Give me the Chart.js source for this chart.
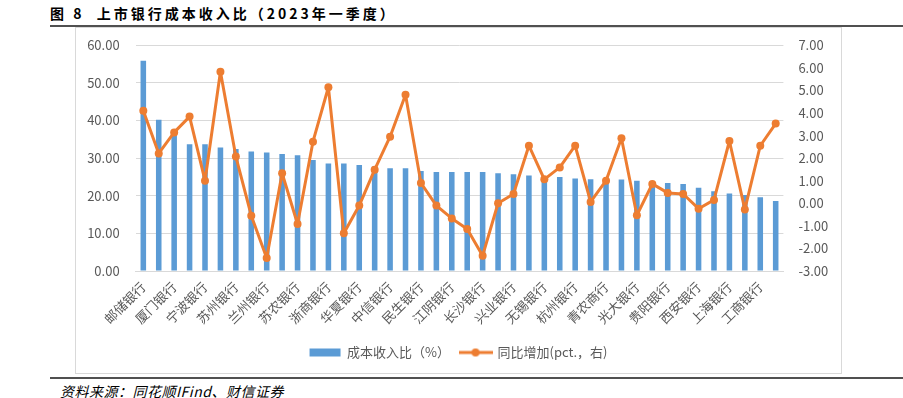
<!DOCTYPE html>
<html lang="zh-CN">
<head>
    <meta charset="UTF-8">
    <title>上市银行成本收入比</title>
    <script src="https://cdn.jsdelivr.net/npm/chart.js"></script>
    <style>
        body { margin: 0; width: 903px; height: 398px; background: #fff; position: relative; overflow: hidden;
               font-family: "Noto Sans CJK SC", "Noto Sans", sans-serif; }
        #title { position: absolute; left: 50px; top: 3px; font-size: 14px; font-weight: bold; letter-spacing: 3px; color: #000; }
        .rule { position: absolute; left: 50px; right: 0; height: 2px; background: #505050; }
        #frame { position: absolute; left: 75px; top: 27px; width: 767px; height: 347px;
                 border: 1px solid #d9d9d9; box-sizing: border-box; }
        #source { position: absolute; left: 60px; top: 381px; font-size: 14px; font-style: italic; letter-spacing: 0.5px; color: #000; }
    </style>
</head>
<body>
    <div id="title">图 8&nbsp;&nbsp;上市银行成本收入比（2023年一季度）</div>
    <div class="rule" style="top:25px"></div>
    <div id="frame"><canvas id="myChart"></canvas></div>
    <div class="rule" style="top:377px"></div>
    <div id="source">资料来源：同花顺IFind、财信证券</div>

    <script>
        // 银行（按成本收入比降序）
        const banks = ['邮储银行', '常熟银行', '厦门银行', '瑞丰银行', '宁波银行', '紫金银行', '苏州银行', '张家港行',
            '兰州银行', '沪农商行', '苏农银行', '渝农商行', '浙商银行', '齐鲁银行', '华夏银行', '北京银行',
            '中信银行', '农业银行', '民生银行', '中国银行', '江阴银行', '平安银行', '长沙银行', '招商银行',
            '兴业银行', '浦发银行', '无锡银行', '交通银行', '杭州银行', '青岛银行', '青农商行', '郑州银行',
            '光大银行', '江苏银行', '贵阳银行', '南京银行', '西安银行', '重庆银行', '上海银行', '成都银行',
            '工商银行', '建设银行'];

        // 成本收入比（%）
        const costIncome = [55.9, 40.2, 36.5, 33.7, 33.7, 32.8, 32.4, 31.8, 31.5, 31.1, 30.8, 29.5, 28.6, 28.6,
            28.2, 27.8, 27.3, 27.3, 26.6, 26.3, 26.3, 26.3, 26.3, 26.0, 25.7, 25.4, 25.2, 25.0, 24.6, 24.4,
            24.4, 24.3, 24.0, 23.5, 23.4, 23.1, 22.1, 21.2, 20.6, 20.2, 19.6, 18.6];

        // 同比增加（pct.，右轴）
        const yoyChange = [4.10, 2.21, 3.14, 3.84, 1.00, 5.83, 2.07, -0.55, -2.42, 1.33, -0.92, 2.73, 5.14, -1.33,
            -0.10, 1.49, 2.95, 4.81, 0.90, -0.10, -0.67, -1.14, -2.32, 0.00, 0.41, 2.55, 1.06, 1.59, 2.55, 0.06,
            1.00, 2.88, -0.53, 0.86, 0.46, 0.41, -0.24, 0.15, 2.76, -0.27, 2.55, 3.53];

        const seriesNames = ['成本收入比（%）', '同比增加(pct.，右)'];
        const blue = '#5b9bd5';
        const orange = '#ed7d31';
        const grey = '#595959';
        const font = '"Noto Sans CJK SC", "Noto Sans", sans-serif';

        // legend icon for the line series: a short line with a dot
        const lineIcon = document.createElement('canvas');
        lineIcon.width = 34; lineIcon.height = 10;
        (function () {
            const c = lineIcon.getContext('2d');
            c.strokeStyle = orange; c.lineWidth = 3;
            c.beginPath(); c.moveTo(0, 5); c.lineTo(34, 5); c.stroke();
            c.fillStyle = orange;
            c.beginPath(); c.arc(17, 5, 4, 0, Math.PI * 2); c.fill();
        })();

        // fixed axis widths so the plot area lands where the original one is
        function fixVertical(width) {
            return s => { s.width = width; s.paddingTop = 0; s.paddingBottom = 0; };
        }

        const config = {
            data: {
                labels: banks,
                datasets: [{
                    type: 'bar',
                    label: seriesNames[0],
                    data: costIncome,
                    backgroundColor: blue,
                    borderWidth: 0,
                    categoryPercentage: 1,
                    barPercentage: 0.36,
                    yAxisID: 'y',
                    order: 2
                }, {
                    type: 'line',
                    label: seriesNames[1],
                    data: yoyChange,
                    borderColor: orange,
                    backgroundColor: orange,
                    borderWidth: 3,
                    borderJoinStyle: 'round',
                    borderCapStyle: 'round',
                    pointRadius: 4,
                    pointBackgroundColor: orange,
                    pointBorderWidth: 0,
                    tension: 0,
                    yAxisID: 'y1',
                    order: 1
                }]
            },
            options: {
                responsive: true,
                maintainAspectRatio: false,
                animation: false,
                layout: { padding: { left: 0, right: 0, top: 17.3, bottom: 4 } },
                scales: {
                    x: {
                        offset: true,
                        grid: { display: false, drawTicks: false },
                        border: { color: '#d9d9d9' },
                        ticks: {
                            autoSkip: false,
                            maxRotation: 45,
                            minRotation: 45,
                            padding: 8,
                            color: grey,
                            font: { family: font, size: 13 },
                            callback: function (v, i) { return i % 2 === 0 ? this.getLabelForValue(v) : ''; }
                        },
                        afterFit: s => { s.height = 65; }
                    },
                    y: {
                        position: 'left',
                        min: 0, max: 60,
                        grid: { color: '#d9d9d9', drawTicks: false },
                        border: { display: false },
                        ticks: {
                            stepSize: 10, padding: 16, color: grey,
                            font: { family: font, size: 13 },
                            callback: v => v.toFixed(2)
                        },
                        afterFit: fixVertical(59.6)
                    },
                    y1: {
                        position: 'right',
                        min: -3, max: 7,
                        grid: { display: false, drawTicks: false },
                        border: { display: false },
                        ticks: {
                            stepSize: 1, padding: 15, color: grey,
                            font: { family: font, size: 13 },
                            callback: v => v.toFixed(2)
                        },
                        afterFit: fixVertical(57.6)
                    }
                },
                plugins: {
                    tooltip: { enabled: false },
                    legend: {
                        position: 'bottom',
                        labels: {
                            color: grey,
                            font: { family: font, size: 13 },
                            usePointStyle: true,
                            pointStyleWidth: 31,
                            boxHeight: 8,
                            padding: 10,
                            sort: (a, b) => a.datasetIndex - b.datasetIndex,
                            generateLabels: chart => {
                                const items = Chart.defaults.plugins.legend.labels.generateLabels(chart);
                                items.forEach(it => {
                                    if (it.datasetIndex === 0) {
                                        it.pointStyle = 'rect';
                                        it.fillStyle = blue;
                                        it.strokeStyle = blue;
                                        it.lineWidth = 0;
                                    } else {
                                        it.pointStyle = lineIcon;
                                    }
                                });
                                return items;
                            }
                        }
                    }
                }
            }
        };

        var myChart = new Chart(document.getElementById('myChart'), config);
    </script>
</body>
</html>
